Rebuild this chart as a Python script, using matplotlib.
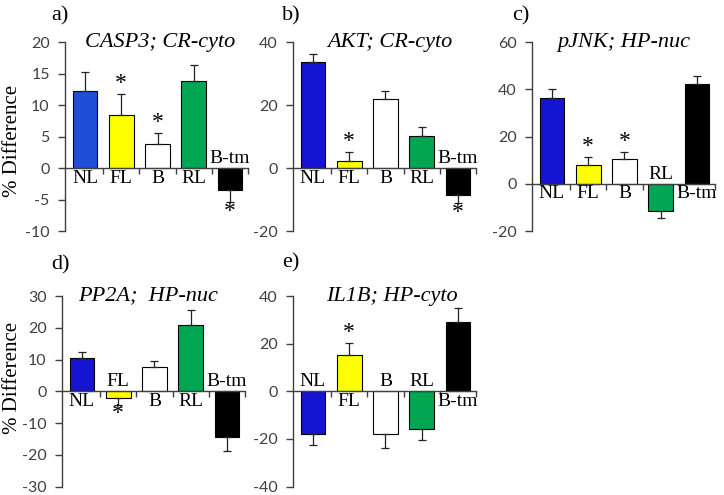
import matplotlib

matplotlib.use("Agg")
import matplotlib.pyplot as plt

plt.rcParams["axes.unicode_minus"] = False

# --- data ---
categories = ["NL", "FL", "B", "RL", "B-tm"]

casp3_vals = [12.2, 8.4, 3.8, 13.9, -3.4]
casp3_err = [3.1, 3.3, 1.8, 2.4, 2.0]
casp3_sig = [False, True, True, False, True]

akt_vals = [33.7, 2.2, 21.9, 10.2, -8.4]
akt_err = [2.6, 3.0, 2.7, 2.7, 2.8]
akt_sig = [False, True, False, False, True]

pjnk_vals = [36.3, 8.0, 10.7, -11.5, 42.4]
pjnk_err = [3.7, 3.3, 3.0, 3.1, 3.4]
pjnk_sig = [False, True, True, False, False]

pp2a_vals = [10.5, -2.0, 7.7, 21.0, -14.5]
pp2a_err = [1.8, 2.3, 1.9, 4.6, 4.2]
pp2a_sig = [False, True, False, False, False]

il1b_vals = [-17.8, 15.1, -17.8, -15.8, 28.9]
il1b_err = [4.6, 5.3, 5.8, 4.5, 6.1]
il1b_sig = [False, True, False, False, False]

BLUE_A = "#1f4fd8"
BLUE = "#1414d2"
COLORS = [BLUE, "#ffff00", "#ffffff", "#00a651", "#000000"]

SERIF = "Liberation Serif"
SANS = "Lato"
AX_COL = "#404040"

fig = plt.figure(figsize=(7.24, 4.95), dpi=100)


def panel(rect, vals, err, sig, ylim, yticks, title, tag, tag_xy, blue=BLUE, tx=0.52):
    ax = fig.add_axes(rect)
    x = range(len(categories))
    cols = [blue] + COLORS[1:]
    lo = [e if v < 0 else 0 for v, e in zip(vals, err)]
    hi = [e if v >= 0 else 0 for v, e in zip(vals, err)]
    ax.bar(x, vals, width=0.68, color=cols, edgecolor="black", linewidth=0.8,
           yerr=[lo, hi], error_kw=dict(ecolor="#222", elinewidth=0.9, capsize=3,
                                        capthick=0.9))
    ax.set_xlim(-0.55, len(categories) - 0.5)
    ax.set_ylim(*ylim)
    ax.set_yticks(yticks)
    ax.set_xticks([i - 0.5 for i in range(1, len(categories) + 1)])
    ax.set_xticklabels([])
    for s in ("top", "right"):
        ax.spines[s].set_visible(False)
    ax.spines["bottom"].set_position(("data", 0))
    for s in ("bottom", "left"):
        ax.spines[s].set_color(AX_COL)
        ax.spines[s].set_linewidth(1.0)
    ax.tick_params(axis="y", direction="out", length=5, width=1, color=AX_COL,
                   labelsize=11.5, labelcolor=AX_COL, pad=6)
    ax.tick_params(axis="x", direction="out", length=4, width=1, color=AX_COL)
    for lab in ax.get_yticklabels():
        lab.set_family(SANS)
    ax.patch.set_alpha(0)

    for i, (v, e, s, c) in enumerate(zip(vals, err, sig, categories)):
        if v >= 0:
            ax.annotate(c, (i, 0), xytext=(0, -1), textcoords="offset points",
                        ha="center", va="top", fontsize=14, family=SERIF)
            if s:
                ax.annotate("*", (i, v + e), xytext=(0, 0), textcoords="offset points",
                            ha="center", va="bottom", fontsize=17, family=SERIF)
        else:
            ax.annotate(c, (i, 0), xytext=(0, 1), textcoords="offset points",
                        ha="center", va="bottom", fontsize=14, family=SERIF)
            if s:
                ax.annotate("*", (i, v - e), xytext=(0, -14), textcoords="offset points",
                            ha="center", va="bottom", fontsize=17, family=SERIF)

    ax.text(tx, 1.0, title, transform=ax.transAxes, ha="center", va="center",
            fontsize=16, family=SERIF, style="italic")
    fig.text(tag_xy[0], tag_xy[1], tag, ha="left", va="center", fontsize=16, family=SERIF)
    return ax


TOP = [0.533, 0.382]
BOT = [0.017, 0.385]
W = 0.253

panel([0.0898, TOP[0], W, TOP[1]], casp3_vals, casp3_err, casp3_sig, (-10, 20),
      range(-10, 21, 5), "CASP3; CR-cyto", "a)", (0.071, 0.968), blue=BLUE_A, tx=0.52)
panel([0.4047, TOP[0], W, TOP[1]], akt_vals, akt_err, akt_sig, (-20, 40),
      range(-20, 41, 20), "AKT; CR-cyto", "b)", (0.389, 0.968), tx=0.53)
panel([0.7348, TOP[0], W, TOP[1]], pjnk_vals, pjnk_err, pjnk_sig, (-20, 60),
      range(-20, 61, 20), "pJNK; HP-nuc", "c)", (0.708, 0.968), tx=0.50)
panel([0.0856, BOT[0], W, BOT[1]], pp2a_vals, pp2a_err, pp2a_sig, (-30, 30),
      range(-30, 31, 10), "PP2A;  HP-nuc", "d)", (0.071, 0.464), tx=0.47)
panel([0.4047, BOT[0], W, BOT[1]], il1b_vals, il1b_err, il1b_sig, (-40, 40),
      range(-40, 41, 20), "IL1B; HP-cyto", "e)", (0.390, 0.468), tx=0.54)

for yc in (0.715, 0.236):
    fig.text(0.017, yc, "% Difference", rotation=90, ha="center", va="center",
             fontsize=15, family=SERIF)

fig.savefig("out.png", dpi=100)
